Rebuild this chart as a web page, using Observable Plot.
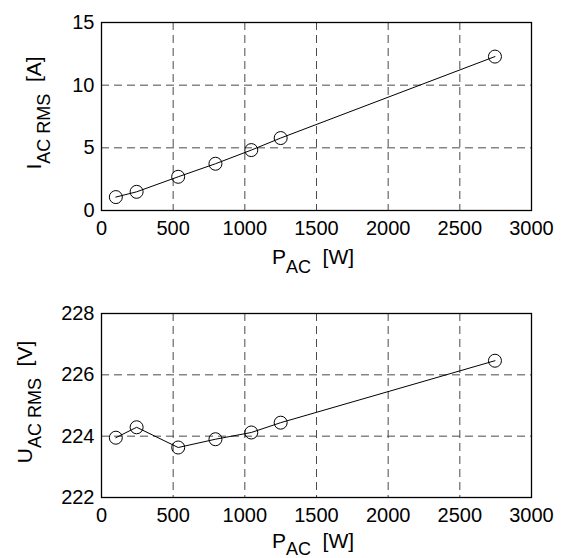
<!DOCTYPE html>
<html>
<head>
<meta charset="utf-8">
<script src="https://cdn.jsdelivr.net/npm/d3@7"></script>
<script src="https://cdn.jsdelivr.net/npm/@observablehq/plot@0.6"></script>
<style>
  html, body { margin: 0; padding: 0; background: #fff; }
  #chart { width: 565px; height: 558px; overflow: hidden; }
  svg { display: block; }
</style>
</head>
<body>
<div id="chart"></div>
<script>
// Data
const pac = [100, 245, 535, 795, 1045, 1250, 2745];          // P_AC [W]
const iac = [1.07, 1.49, 2.69, 3.73, 4.82, 5.78, 12.28];     // I_AC RMS [A]
const uac = [223.95, 224.29, 223.63, 223.90, 224.12, 224.44, 226.46]; // U_AC RMS [V]
const xTicks = [0, 500, 1000, 1500, 2000, 2500, 3000];
const iTicks = [0, 5, 10, 15];
const uTicks = [222, 224, 226, 228];

const FONT = "'Liberation Sans', Arial, Helvetica, sans-serif";

function panel(yValues, yDomain, yTicks, opts) {
  const data = pac.map((p, i) => ({x: p, y: yValues[i]}));
  const gridStyle = {stroke: "#4a4a4a", strokeOpacity: 1, strokeWidth: 1, strokeDasharray: "8,5"};
  return Plot.plot({
    width: 565,
    height: 279,
    marginLeft: 101,
    marginRight: 34,
    marginTop: opts.marginTop,
    marginBottom: opts.marginBottom,
    style: {fontFamily: FONT, fontSize: "20px", color: "black", background: "white", overflow: "hidden"},
    x: {domain: [0, 3000], ticks: xTicks, label: null},
    y: {domain: yDomain, ticks: yTicks, label: null},
    marks: [
      Plot.gridX(xTicks, gridStyle),
      Plot.gridY(yTicks, gridStyle),
      Plot.axisX(xTicks, {tickSize: 0, tickPadding: 10, label: null, fontSize: 20, tickFormat: d => String(d)}),
      Plot.axisY(yTicks, {tickSize: 0, tickPadding: 7, label: null, fontSize: 20, tickFormat: d => String(d)}),
      Plot.line(data, {x: "x", y: "y", stroke: "black", strokeWidth: 1}),
      Plot.dot(data, {x: "x", y: "y", r: 6.5, stroke: "black", fill: "none", strokeWidth: 1}),
      Plot.frame({stroke: "black", strokeWidth: 1.3})
    ]
  });
}

function addLabels(svg, xl, yl) {
  const s = d3.select(svg);
  const tx = s.append("text")
    .attr("x", xl.x).attr("y", xl.y)
    .attr("text-anchor", "middle")
    .attr("font-family", FONT).attr("font-size", 21).attr("fill", "black");
  tx.append("tspan").text("P");
  tx.append("tspan").attr("dy", xl.sub).attr("font-size", 18).text("AC");
  tx.append("tspan").attr("dy", -xl.sub).text("\u00a0 [W]");
  const ty = s.append("text")
    .attr("transform", `translate(${yl.x},${yl.y}) rotate(-90)`)
    .attr("text-anchor", "middle")
    .attr("font-family", FONT).attr("font-size", 21).attr("fill", "black");
  ty.append("tspan").text(yl.main);
  ty.append("tspan").attr("dy", 9).attr("font-size", 18).text("AC RMS");
  ty.append("tspan").attr("dy", -9).text("\u00a0 " + yl.unit);
}

const topPanel = panel(iac, [0, 15], iTicks, {marginTop: 22, marginBottom: 69});
addLabels(topPanel, {x: 313, y: 264, sub: 9}, {x: 41, y: 113, main: "I", unit: "[A]"});

const bottomPanel = panel(uac, [222, 228], uTicks, {marginTop: 34, marginBottom: 61});
addLabels(bottomPanel, {x: 313, y: 269, sub: 7}, {x: 32, y: 123, main: "U", unit: "[V]"});

const chart = document.getElementById("chart");
chart.appendChild(topPanel);
chart.appendChild(bottomPanel);
</script>
</body>
</html>
